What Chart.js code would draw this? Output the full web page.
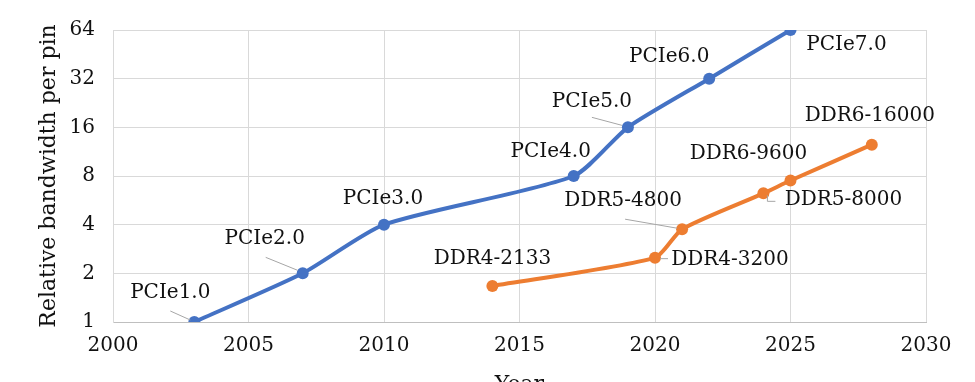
<!DOCTYPE html>
<html>
<head>
<meta charset="utf-8">
<script src="https://cdn.jsdelivr.net/npm/chart.js@4/dist/chart.umd.min.js"></script>
<style>
  html,body{margin:0;padding:0;background:#fff;overflow:hidden}
  #wrap{width:975px;height:382px;position:relative}
</style>
</head>
<body>
<div id="wrap"><canvas id="c"></canvas></div>
<script>
const pcieYears = [2003, 2007, 2010, 2017, 2019, 2022, 2025]
const pcieValues = [1, 2, 4, 8, 16, 32, 64]
const pcieNames = ['PCIe1.0','PCIe2.0','PCIe3.0','PCIe4.0','PCIe5.0','PCIe6.0','PCIe7.0']

const ddrYears = [2014, 2020, 2021, 2024, 2025, 2028]
const ddrValues = [1.67, 2.5, 3.75, 6.25, 7.5, 12.5]
const ddrNames = ['DDR4-2133','DDR4-3200','DDR5-4800','DDR5-8000','DDR6-9600','DDR6-16000']

const yTicks = [1, 2, 4, 8, 16, 32, 64]

const FONT = "'DejaVu Serif', serif"

// label placement relative to the point (px): text centre + optional leader polyline
const pciePlace = [
  {dx:-24, dy:-29, leader:[[-24,-11],[-4,-2]]},
  {dx:-38, dy:-35, leader:[[-37,-16],[-5,-3]]},
  {dx:-1, dy:-26},
  {dx:-23, dy:-24},
  {dx:-36, dy:-26, leader:[[-36,-10],[-6,-2]]},
  {dx:-40, dy:-22},
  {dx:56, dy:15}
]
const ddrPlace = [
  {dx:0, dy:-27},
  {dx:75, dy:2, leader:[[5,1],[13,1]]},
  {dx:-59, dy:-28, leader:[[-57,-10],[-5,-1]]},
  {dx:80, dy:6, leader:[[4,2],[4,8],[12,8]]},
  {dx:-42, dy:-27},
  {dx:-2, dy:-29}
]

const labelPlugin = {
  id: 'pointLabels',
  afterDatasetsDraw(chart){
    const ctx = chart.ctx
    const sets = [[pcieNames, pciePlace], [ddrNames, ddrPlace]]
    sets.forEach(([names, place], di) => {
      const meta = chart.getDatasetMeta(di)
      meta.data.forEach((pt, i) => {
        const p = place[i]
        ctx.save()
        if(p.leader){
          ctx.strokeStyle = '#a6a6a6'
          ctx.lineWidth = 1
          ctx.beginPath()
          p.leader.forEach(([lx, ly], k) => {
            if(k === 0) ctx.moveTo(pt.x + lx, pt.y + ly)
            else ctx.lineTo(pt.x + lx, pt.y + ly)
          })
          ctx.stroke()
        }
        ctx.fillStyle = '#111'
        ctx.font = '20px ' + FONT
        ctx.textAlign = 'center'
        ctx.textBaseline = 'middle'
        ctx.fillText(names[i], pt.x + p.dx, pt.y + p.dy)
        ctx.restore()
      })
    })
  }
}

new Chart(document.getElementById('c'), {
  type: 'line',
  data: {
    datasets: [
      {
        label: 'PCIe',
        data: pcieYears.map((x, i) => ({x, y: pcieValues[i]})),
        borderColor: '#4472C4', backgroundColor: '#4472C4',
        borderWidth: 4, pointRadius: 6, pointBorderWidth: 0, tension: 0.22
      },
      {
        label: 'DDR',
        data: ddrYears.map((x, i) => ({x, y: ddrValues[i]})),
        borderColor: '#ED7D31', backgroundColor: '#ED7D31',
        borderWidth: 4, pointRadius: 6, pointBorderWidth: 0, tension: 0.22
      }
    ]
  },
  options: {
    responsive: true,
    maintainAspectRatio: false,
    animation: false,
    layout: { padding: { left: 0, top: 27, right: 49, bottom: 0 } },
    plugins: { legend: {display:false}, tooltip: {enabled:false} },
    scales: {
      x: {
        type: 'linear', min: 2000, max: 2030,
        afterFit(s){ s.height = 60 },
        ticks: { stepSize: 5, color: '#111', padding: 12, font: {family: FONT, size: 20}, callback: v => String(v), maxRotation: 0 },
        grid: { color: '#d9d9d9', drawTicks: false },
        border: { color: '#bfbfbf' },
        title: { display: true, text: 'Year', color: '#111', font: {family: FONT, size: 22}, padding: {top: 0, bottom: -16} }
      },
      y: {
        type: 'logarithmic', min: 1, max: 64,
        afterFit(s){ s.width = 113 },
        afterBuildTicks(s){ s.ticks = yTicks.map(v => ({value: v})) },
        ticks: { color: '#111', padding: 18, font: {family: FONT, size: 20}, callback: v => String(v) },
        grid: { color: '#d9d9d9', drawTicks: false },
        border: { color: '#d9d9d9' },
        title: { display: true, text: 'Relative bandwidth per pin', color: '#111', font: {family: FONT, size: 22}, padding: {top: 36, bottom: 0} }
      }
    }
  },
  plugins: [labelPlugin]
})
</script>
</body>
</html>
